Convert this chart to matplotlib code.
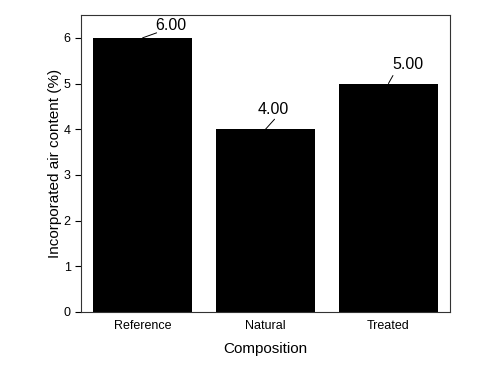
import matplotlib.pyplot as plt

plt.rcParams['font.family'] = ['Liberation Sans', 'DejaVu Sans']

categories = ['Reference', 'Natural', 'Treated']
values = [6.00, 4.00, 5.00]

# label placement (pixels from bar top centre)
line_start = [(3, 1), (2, 2), (1.5, 3)]
line_end = [(14, 5), (9, 10), (4.5, 8)]
text_pos = [(28, 5), (8, 12), (19, 12)]

fig = plt.figure(figsize=(5.01, 3.75), dpi=100)
ax = fig.add_axes([0.162, 0.168, 0.736, 0.792])

x = range(len(categories))
ax.bar(x, values, width=0.81, color='black')

for i, v in enumerate(values):
    ax.annotate('', xy=(i, v), xytext=line_end[i], textcoords='offset pixels',
                arrowprops=dict(arrowstyle='-', lw=0.7, color='black',
                                shrinkA=0, shrinkB=0,
                                relpos=(0.5, 0.5)))
    ax.annotate('%.2f' % v, xy=(i, v), xytext=text_pos[i],
                textcoords='offset pixels', ha='center', va='bottom',
                fontsize=11.5)

ax.set_xlim(-0.5, 2.5)
ax.set_ylim(0, 6.5)
ax.set_xticks(list(x))
ax.set_xticklabels(categories, fontsize=9)
ax.tick_params(axis='x', length=0, pad=6)
ax.tick_params(axis='y', labelsize=9, length=4, width=0.8)
ax.set_yticks(range(7))
ax.set_xlabel('Composition', fontsize=11, labelpad=7)
ax.set_ylabel('Incorporated air content (%)', fontsize=11, labelpad=1)
for s in ax.spines.values():
    s.set_linewidth(0.8)
    s.set_color('#333333')

fig.savefig('out.png', dpi=100)
